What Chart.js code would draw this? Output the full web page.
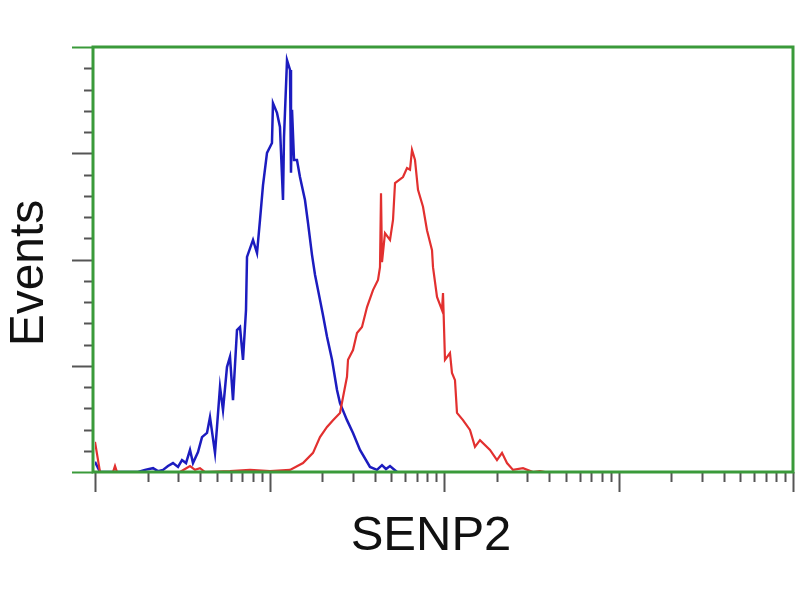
<!DOCTYPE html>
<html>
<head>
<meta charset="utf-8">
<script src="https://cdn.jsdelivr.net/npm/chart.js@4/dist/chart.umd.min.js"></script>
<style>
  body { margin: 0; background: #fff; }
  canvas { display: block; }
</style>
</head>
<body>
<canvas id="chart" width="800" height="600"></canvas>
<script>
// histogram of the control (blue) and SENP2 stain (red), log intensity on x
const blueX = [1.00, 1.068, 1.764, 1.934, 2.150, 2.296, 2.453, 2.620, 2.799, 2.990, 3.152, 3.323, 3.503, 3.644, 3.893,
  4.104, 4.384, 4.560, 4.872, 5.002, 5.204, 5.414, 5.706, 5.937, 6.177, 6.512, 6.775, 7.049, 7.334, 7.432,
  8.044, 8.481, 8.822, 9.179, 9.676, 10.33, 10.47, 11.04, 11.48, 11.95, 12.11, 12.60, 13.11, 13.28, 13.46,
  13.82, 14.37, 14.95, 15.97, 16.62, 17.52, 18.23, 19.47, 20.26, 21.36, 22.82, 24.37, 25.35, 27.80, 30.10,
  33.01, 37.66, 41.30, 44.12, 46.51, 49.04, 53.79];
const blueY = [2.4, 0, 0, 0.5, 0.9, 0.2, 0.5, 1.4, 2.1, 1.2, 2.8, 2.1, 5.2, 2.1, 4.7,
  8.2, 9.2, 12.9, 4.5, 10.6, 20.0, 14.6, 24.7, 27.1, 16.9, 33.4, 34.1, 26.4, 38.1, 50.6,
  54.6, 51.5, 59.3, 67.5, 75.1, 77.4, 86.8, 84.5, 81.2, 64.0, 78.8, 96.9, 94.6, 70.4, 85.2,
  73.4, 73.4, 69.4, 64.0, 58.6, 51.1, 46.4, 40.5, 36.9, 31.8, 26.4, 19.3, 16.2, 12.2, 9.2,
  5.2, 1.2, 0.5, 1.6, 0.7, 1.4, 0];

const redX = [1.00, 1.068, 1.268, 1.302, 1.337, 3.069, 3.280, 3.503, 3.742, 3.997, 4.269, 5.937, 7.731, 10.07, 13.11,
  15.56, 17.76, 19.47, 21.36, 23.12, 25.35, 26.38, 27.80, 28.18, 30.10, 31.72, 33.89, 36.21, 39.18, 41.86,
  42.97, 43.55, 44.13, 45.91, 49.04, 51.03, 52.40, 58.21, 61.38, 63.86, 65.55, 68.21, 70.96, 75.80, 79.90,
  85.37, 86.50, 91.19, 97.39, 98.70, 101.3, 108.2, 111.1, 115.6, 118.7, 128.5, 140.9, 150.5, 160.8, 183.5,
  201.2, 215.0, 229.6, 248.6, 283.7, 323.6, 354.9, 379.2];
const redY = [7.1, 0, 0, 1.4, 0, 0, 0.7, 1.4, 0.5, 0.9, 0, 0.2, 0.5, 0.2, 0.5,
  2.1, 4.5, 8.2, 10.6, 12.2, 13.9, 17.6, 22.4, 26.4, 28.7, 32.7, 34.1, 38.8, 42.8, 45.2,
  48.2, 65.6, 49.4, 56.2, 54.6, 59.3, 68.0, 69.4, 71.5, 71.1, 75.8, 73.4, 66.4, 62.4, 56.9,
  52.2, 48.2, 41.2, 38.1, 42.1, 26.4, 28.0, 23.3, 21.6, 13.9, 12.2, 9.9, 5.9, 7.5, 5.2,
  2.8, 4.5, 2.1, 0.5, 0.9, 0, 0.2, 0];

const xMajorTicks = [1, 10, 100, 1000, 10000];
const xMinorTicks = [2, 3, 4, 5, 6, 7, 8, 9, 20, 30, 40, 50, 60, 70, 80, 90,
  200, 300, 400, 500, 600, 700, 800, 900, 2000, 3000, 4000, 5000, 6000, 7000, 8000, 9000];
const yMajorTicks = [0, 25, 50, 75, 100];
const yMinorTicks = [5, 10, 15, 20, 30, 35, 40, 45, 55, 60, 65, 70, 80, 85, 90, 95];

const xTitle = 'SENP2';
const yTitle = 'Events';

const frameGreen = '#3a9a3a';
const tickGray = '#555555';

// frame, tick marks and axis titles
const decorPlugin = {
    id: 'decor',
    afterDatasetsDraw(chart) {
        const ctx = chart.ctx;
        const { left, right, top, bottom } = chart.chartArea;
        const xs = chart.scales.x;
        const ys = chart.scales.y;
        const frameLeft = left - 2;

        ctx.save();
        ctx.lineCap = 'butt';

        // y ticks (outside, to the left)
        ctx.lineWidth = 2;
        ctx.strokeStyle = tickGray;
        yMinorTicks.forEach(v => {
            const py = Math.round(ys.getPixelForValue(v)) + 0.5;
            ctx.beginPath(); ctx.moveTo(frameLeft - 9, py); ctx.lineTo(frameLeft, py); ctx.stroke();
        });
        yMajorTicks.forEach(v => {
            const py = Math.round(ys.getPixelForValue(v)) + 0.5;
            ctx.strokeStyle = (v === 0 || v === 100) ? frameGreen : tickGray;
            ctx.beginPath(); ctx.moveTo(frameLeft - 21, py); ctx.lineTo(frameLeft, py); ctx.stroke();
        });

        // x ticks (below)
        ctx.strokeStyle = tickGray;
        xMinorTicks.forEach(v => {
            const px = Math.round(xs.getPixelForValue(v)) + 0.5;
            ctx.beginPath(); ctx.moveTo(px, bottom); ctx.lineTo(px, bottom + 10); ctx.stroke();
        });
        xMajorTicks.forEach(v => {
            const px = Math.round(xs.getPixelForValue(v)) + 0.5;
            ctx.beginPath(); ctx.moveTo(px, bottom); ctx.lineTo(px, bottom + 20); ctx.stroke();
        });

        // green frame
        ctx.strokeStyle = frameGreen;
        ctx.lineWidth = 3;
        ctx.strokeRect(frameLeft, top, right - frameLeft, bottom - top);

        // titles
        ctx.fillStyle = '#111';
        ctx.font = '49px "Liberation Sans", Arial, sans-serif';
        ctx.textAlign = 'center';
        ctx.textBaseline = 'alphabetic';
        ctx.fillText(xTitle, 431, 550);

        ctx.font = '48px "Liberation Sans", Arial, sans-serif';
        ctx.translate(43, 273);
        ctx.rotate(-Math.PI / 2);
        ctx.fillText(yTitle, 0, 0);
        ctx.restore();
    }
};

const ctx = document.getElementById('chart').getContext('2d');
new Chart(ctx, {
    type: 'line',
    data: {
        datasets: [
            {
                label: 'SENP2',
                data: redX.map((x, i) => ({ x: x, y: redY[i] })),
                borderColor: '#e2302f',
                borderWidth: 2.2,
                pointRadius: 0,
                tension: 0,
                fill: false
            },
            {
                label: 'control',
                data: blueX.map((x, i) => ({ x: x, y: blueY[i] })),
                borderColor: '#1c1cbf',
                borderWidth: 2.5,
                pointRadius: 0,
                tension: 0,
                fill: false
            }
        ]
    },
    options: {
        responsive: false,
        animation: false,
        layout: { padding: { top: 47, right: 7, left: 0, bottom: 0 } },
        plugins: {
            legend: { display: false },
            tooltip: { enabled: false }
        },
        scales: {
            x: {
                type: 'logarithmic',
                min: 1,
                max: 10000,
                ticks: { display: false },
                grid: { display: false },
                border: { display: false },
                afterFit: (scale) => { scale.height = 128; }
            },
            y: {
                type: 'linear',
                min: 0,
                max: 100,
                ticks: { display: false },
                grid: { display: false },
                border: { display: false },
                afterFit: (scale) => { scale.width = 95; }
            }
        }
    },
    plugins: [decorPlugin]
});
</script>
</body>
</html>
